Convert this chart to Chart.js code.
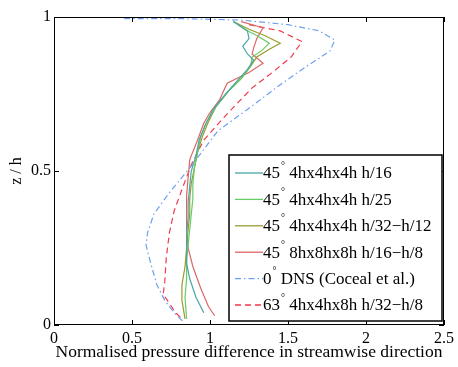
<!DOCTYPE html>
<html>
<head>
<title>Pressure difference profile</title>
<script src="https://cdn.jsdelivr.net/npm/chart.js"></script>
<style>
  html, body { margin: 0; padding: 0; background: #fff; }
  #wrap { width: 458px; height: 367px; position: relative; }
</style>
</head>
<body>
<div id="wrap"><canvas id="profile"></canvas></div>
<script>
// series values: x = normalised pressure difference, z = z/h
const labels = [
  '45° 4hx4hx4h h/16',
  '45° 4hx4hx4h h/25',
  '45° 4hx4hx4h h/32−h/12',
  '45° 8hx8hx8h h/16−h/8',
  '0° DNS (Coceal et al.)',
  '63° 4hx4hx8h h/32−h/8'
];

const h16X = [1.15,1.24,1.25,1.21,1.24,1.28,1.24,1.17,1.10,1.02,0.97,0.93,0.91,0.88,0.87,0.86,0.86,0.85,0.85,0.85,0.87,0.91,0.96];
const h16Z = [0.985,0.955,0.93,0.905,0.88,0.86,0.83,0.79,0.75,0.70,0.65,0.60,0.55,0.50,0.45,0.40,0.35,0.30,0.25,0.20,0.15,0.09,0.04];

const h25X = [1.15,1.22,1.30,1.38,1.33,1.27,1.26,1.20,1.12,1.04,0.98,0.94,0.92,0.90,0.89,0.89,0.88,0.87,0.86,0.85,0.85,0.84,0.85];
const h25Z = [0.985,0.96,0.94,0.915,0.89,0.87,0.84,0.80,0.76,0.71,0.66,0.61,0.56,0.51,0.46,0.41,0.36,0.31,0.26,0.21,0.15,0.09,0.02];

const h32X = [1.15,1.25,1.35,1.45,1.38,1.30,1.26,1.20,1.12,1.04,0.99,0.95,0.92,0.90,0.88,0.87,0.87,0.86,0.85,0.84,0.82,0.82,0.84];
const h32Z = [0.985,0.96,0.94,0.915,0.895,0.87,0.84,0.80,0.76,0.71,0.66,0.61,0.56,0.51,0.46,0.41,0.36,0.31,0.25,0.19,0.13,0.08,0.02];

const big8X = [1.20,1.34,1.30,1.28,1.27,1.34,1.25,1.11,1.06,1.00,0.96,0.92,0.88,0.87,0.86,0.85,0.85,0.85,0.86,0.89,0.94,0.99,1.03];
const big8Z = [0.985,0.965,0.93,0.90,0.88,0.85,0.82,0.785,0.73,0.69,0.655,0.60,0.55,0.535,0.48,0.42,0.36,0.30,0.25,0.19,0.12,0.06,0.03];

const dnsX = [0.45,0.80,1.20,1.50,1.70,1.80,1.77,1.62,1.45,1.24,1.05,0.87,0.74,0.64,0.60,0.59,0.62,0.66,0.71,0.77,0.83];
const dnsZ = [0.995,0.995,0.99,0.975,0.955,0.925,0.89,0.84,0.78,0.70,0.63,0.51,0.43,0.36,0.30,0.26,0.20,0.13,0.08,0.04,0.01];

const s63X = [1.25,1.45,1.59,1.52,1.40,1.27,1.10,0.96,0.88,0.82,0.77,0.74,0.72,0.71,0.70,0.74,0.78,0.82];
const s63Z = [0.975,0.955,0.92,0.87,0.82,0.77,0.68,0.60,0.52,0.44,0.37,0.30,0.22,0.14,0.10,0.07,0.04,0.02];

const xTicks = [0, 0.5, 1, 1.5, 2, 2.5];
const yTicks = [0, 0.5, 1];

const serif = '"Liberation Serif", "DejaVu Serif", serif';

function pts(xs, zs) { return xs.map((v, i) => ({x: v, y: zs[i]})); }

const series = [
  {x: h16X, z: h16Z, color: '#4aa6a6', dash: []},
  {x: h25X, z: h25Z, color: '#66cc66', dash: []},
  {x: h32X, z: h32Z, color: '#9a9a30', dash: []},
  {x: big8X, z: big8Z, color: '#dd6666', dash: []},
  {x: dnsX, z: dnsZ, color: '#6f9ff0', dash: [6, 3, 1.5, 3]},
  {x: s63X, z: s63Z, color: '#f03a4a', dash: [6, 4]}
];

// inward ticks + box like the original figure
const boxTicks = {
  id: 'boxTicks',
  afterDatasetsDraw(chart) {
    const {ctx, chartArea: a, scales: {x, y}} = chart;
    ctx.save();
    ctx.strokeStyle = '#000';
    ctx.lineWidth = 1;
    ctx.strokeRect(a.left + 0.5, a.top + 0.5, a.right - a.left - 1, a.bottom - a.top - 1);
    ctx.beginPath();
    xTicks.forEach(v => {
      const px = Math.round(x.getPixelForValue(v)) + 0.5;
      ctx.moveTo(px, a.bottom); ctx.lineTo(px, a.bottom - 5);
      ctx.moveTo(px, a.top); ctx.lineTo(px, a.top + 5);
    });
    yTicks.forEach(v => {
      const py = Math.round(y.getPixelForValue(v)) + 0.5;
      ctx.moveTo(a.left, py); ctx.lineTo(a.left + 5, py);
      ctx.moveTo(a.right, py); ctx.lineTo(a.right - 5, py);
    });
    ctx.stroke();
    ctx.restore();
  }
};

// boxed legend with superscript degree signs
const boxLegend = {
  id: 'boxLegend',
  afterDraw(chart) {
    const ctx = chart.ctx;
    const L = 229, T = 155, R = 442, B = 321;
    ctx.save();
    ctx.fillStyle = '#fff';
    ctx.fillRect(L, T, R - L, B - T);
    ctx.strokeStyle = '#000';
    ctx.lineWidth = 1.5;
    ctx.strokeRect(L, T, R - L, B - T);
    chart.data.datasets.forEach((ds, i) => {
      const cy = 173 + i * 26.4;
      ctx.strokeStyle = ds.borderColor;
      ctx.lineWidth = 1.3;
      ctx.setLineDash(ds.borderDash || []);
      ctx.beginPath();
      ctx.moveTo(235, cy); ctx.lineTo(263, cy);
      ctx.stroke();
      ctx.setLineDash([]);
      const parts = ds.label.split('°');
      ctx.fillStyle = '#000';
      ctx.textBaseline = 'middle';
      ctx.font = '17px ' + serif;
      let tx = 263;
      ctx.fillText(parts[0], tx, cy + 1);
      tx += ctx.measureText(parts[0]).width + 1;
      ctx.font = '10px ' + serif;
      ctx.fillText('°', tx, cy - 7);
      tx += ctx.measureText('°').width;
      ctx.font = '17px ' + serif;
      ctx.fillText(parts[1], tx, cy + 1);
    });
    ctx.restore();
  }
};

new Chart(document.getElementById('profile'), {
  type: 'scatter',
  data: {
    datasets: series.map((s, i) => ({
      label: labels[i],
      data: pts(s.x, s.z),
      showLine: true,
      borderColor: s.color,
      backgroundColor: s.color,
      borderDash: s.dash,
      borderWidth: 1.2,
      pointRadius: 0,
      tension: 0
    }))
  },
  options: {
    responsive: true,
    maintainAspectRatio: false,
    animation: false,
    layout: {padding: {left: 0, right: 14, top: 17, bottom: 0}},
    plugins: {legend: {display: false}, tooltip: {enabled: false}},
    scales: {
      x: {
        type: 'linear', min: 0, max: 2.5,
        afterFit: s => { s.height = 42; },
        afterBuildTicks: s => { s.ticks = xTicks.map(v => ({value: v})); },
        grid: {display: false, tickLength: 0},
        border: {display: false},
        ticks: {color: '#000', font: {family: serif, size: 16}, padding: 4, maxRotation: 0,
                callback: v => String(v)},
        title: {display: true, text: 'Normalised pressure difference in streamwise direction',
                color: '#000', font: {family: serif, size: 17.5}, padding: {top: 0, bottom: 4}}
      },
      y: {
        type: 'linear', min: 0, max: 1,
        afterFit: s => { s.width = 54; },
        afterBuildTicks: s => { s.ticks = yTicks.map(v => ({value: v})); },
        grid: {display: false, tickLength: 0},
        border: {display: false},
        ticks: {color: '#000', font: {family: serif, size: 16}, padding: 3,
                callback: v => String(v)},
        title: {display: true, text: 'z / h', color: '#000', font: {family: serif, size: 16}, padding: {top: 7, bottom: 0}}
      }
    }
  },
  plugins: [boxTicks, boxLegend]
});
</script>
</body>
</html>
